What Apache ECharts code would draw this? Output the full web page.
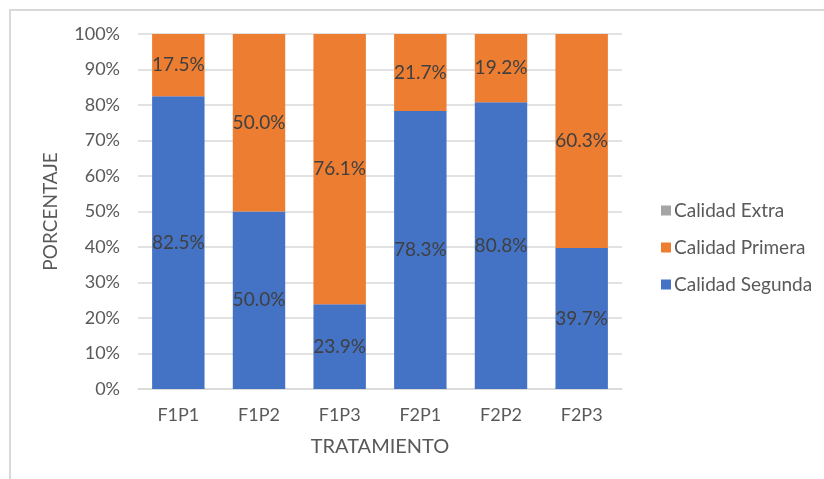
<!DOCTYPE html>
<html>
<head>
<meta charset="utf-8">
<script src="https://cdn.jsdelivr.net/npm/echarts@6/dist/echarts.min.js"></script>
<style>
  html, body { margin: 0; padding: 0; background: #fff; }
  #chart { width: 824px; height: 479px; }
</style>
</head>
<body>
<div id="chart"></div>
<script>
// Treatments and quality shares (percent of total per treatment)
const categories = ['F1P1', 'F1P2', 'F1P3', 'F2P1', 'F2P2', 'F2P3'];
const calidadSegunda = [82.5, 50.0, 23.9, 78.3, 80.8, 39.7];
const calidadPrimera = [17.5, 50.0, 76.1, 21.7, 19.2, 60.3];
const calidadExtra = [0, 0, 0, 0, 0, 0];
const yTicks = [0, 10, 20, 30, 40, 50, 60, 70, 80, 90, 100];

const FONT = 'Lato, "Open Sans", sans-serif';
const chart = echarts.init(document.getElementById('chart'), null, { renderer: 'canvas' });

const valueLabel = {
  show: true,
  position: 'inside',
  color: '#404040',
  fontFamily: FONT,
  fontSize: 19,
  formatter: p => p.value > 0 ? p.value.toFixed(1) + '%' : ''
};

chart.setOption({
  animation: false,
  backgroundColor: '#ffffff',
  graphic: [{
    type: 'rect',
    shape: { x: 10, y: 10, width: 830, height: 490 },
    style: { fill: 'none', stroke: '#d9d9d9', lineWidth: 2 },
    silent: true
  }],
  grid: { left: 138, right: 202, top: 34, bottom: 90 },
  legend: {
    orient: 'vertical',
    left: 661,
    top: 201,
    padding: 0,
    itemWidth: 10,
    itemHeight: 10,
    itemGap: 18,
    icon: 'rect',
    textStyle: { color: '#595959', fontFamily: FONT, fontSize: 19, padding: [0, 0, 0, -2] },
    data: ['Calidad Extra', 'Calidad Primera', 'Calidad Segunda']
  },
  xAxis: {
    type: 'category',
    data: categories,
    name: 'TRATAMIENTO',
    nameLocation: 'middle',
    nameGap: 48,
    nameTextStyle: { color: '#595959', fontFamily: FONT, fontSize: 20 },
    axisLine: { lineStyle: { color: '#d9d9d9', width: 1.5 } },
    axisTick: { show: false },
    axisLabel: { color: '#595959', fontFamily: FONT, fontSize: 18, margin: 17 }
  },
  yAxis: {
    type: 'value',
    min: yTicks[0],
    max: yTicks[yTicks.length - 1],
    interval: 10,
    name: 'PORCENTAJE',
    nameLocation: 'middle',
    nameGap: 78,
    nameTextStyle: { color: '#595959', fontFamily: FONT, fontSize: 19 },
    axisLine: { show: false },
    axisTick: { show: false },
    splitLine: { lineStyle: { color: '#d9d9d9', width: 1.5 } },
    axisLabel: { color: '#595959', fontFamily: FONT, fontSize: 18, margin: 18, formatter: '{value}%' }
  },
  series: [
    {
      name: 'Calidad Segunda', type: 'bar', stack: 'total', barWidth: '65%',
      data: calidadSegunda, itemStyle: { color: '#4472c4' }, label: valueLabel
    },
    {
      name: 'Calidad Primera', type: 'bar', stack: 'total', barWidth: '65%',
      data: calidadPrimera, itemStyle: { color: '#ed7d31' }, label: valueLabel
    },
    {
      name: 'Calidad Extra', type: 'bar', stack: 'total', barWidth: '65%',
      data: calidadExtra, itemStyle: { color: '#a5a5a5' }, label: valueLabel
    }
  ]
});
</script>
</body>
</html>
